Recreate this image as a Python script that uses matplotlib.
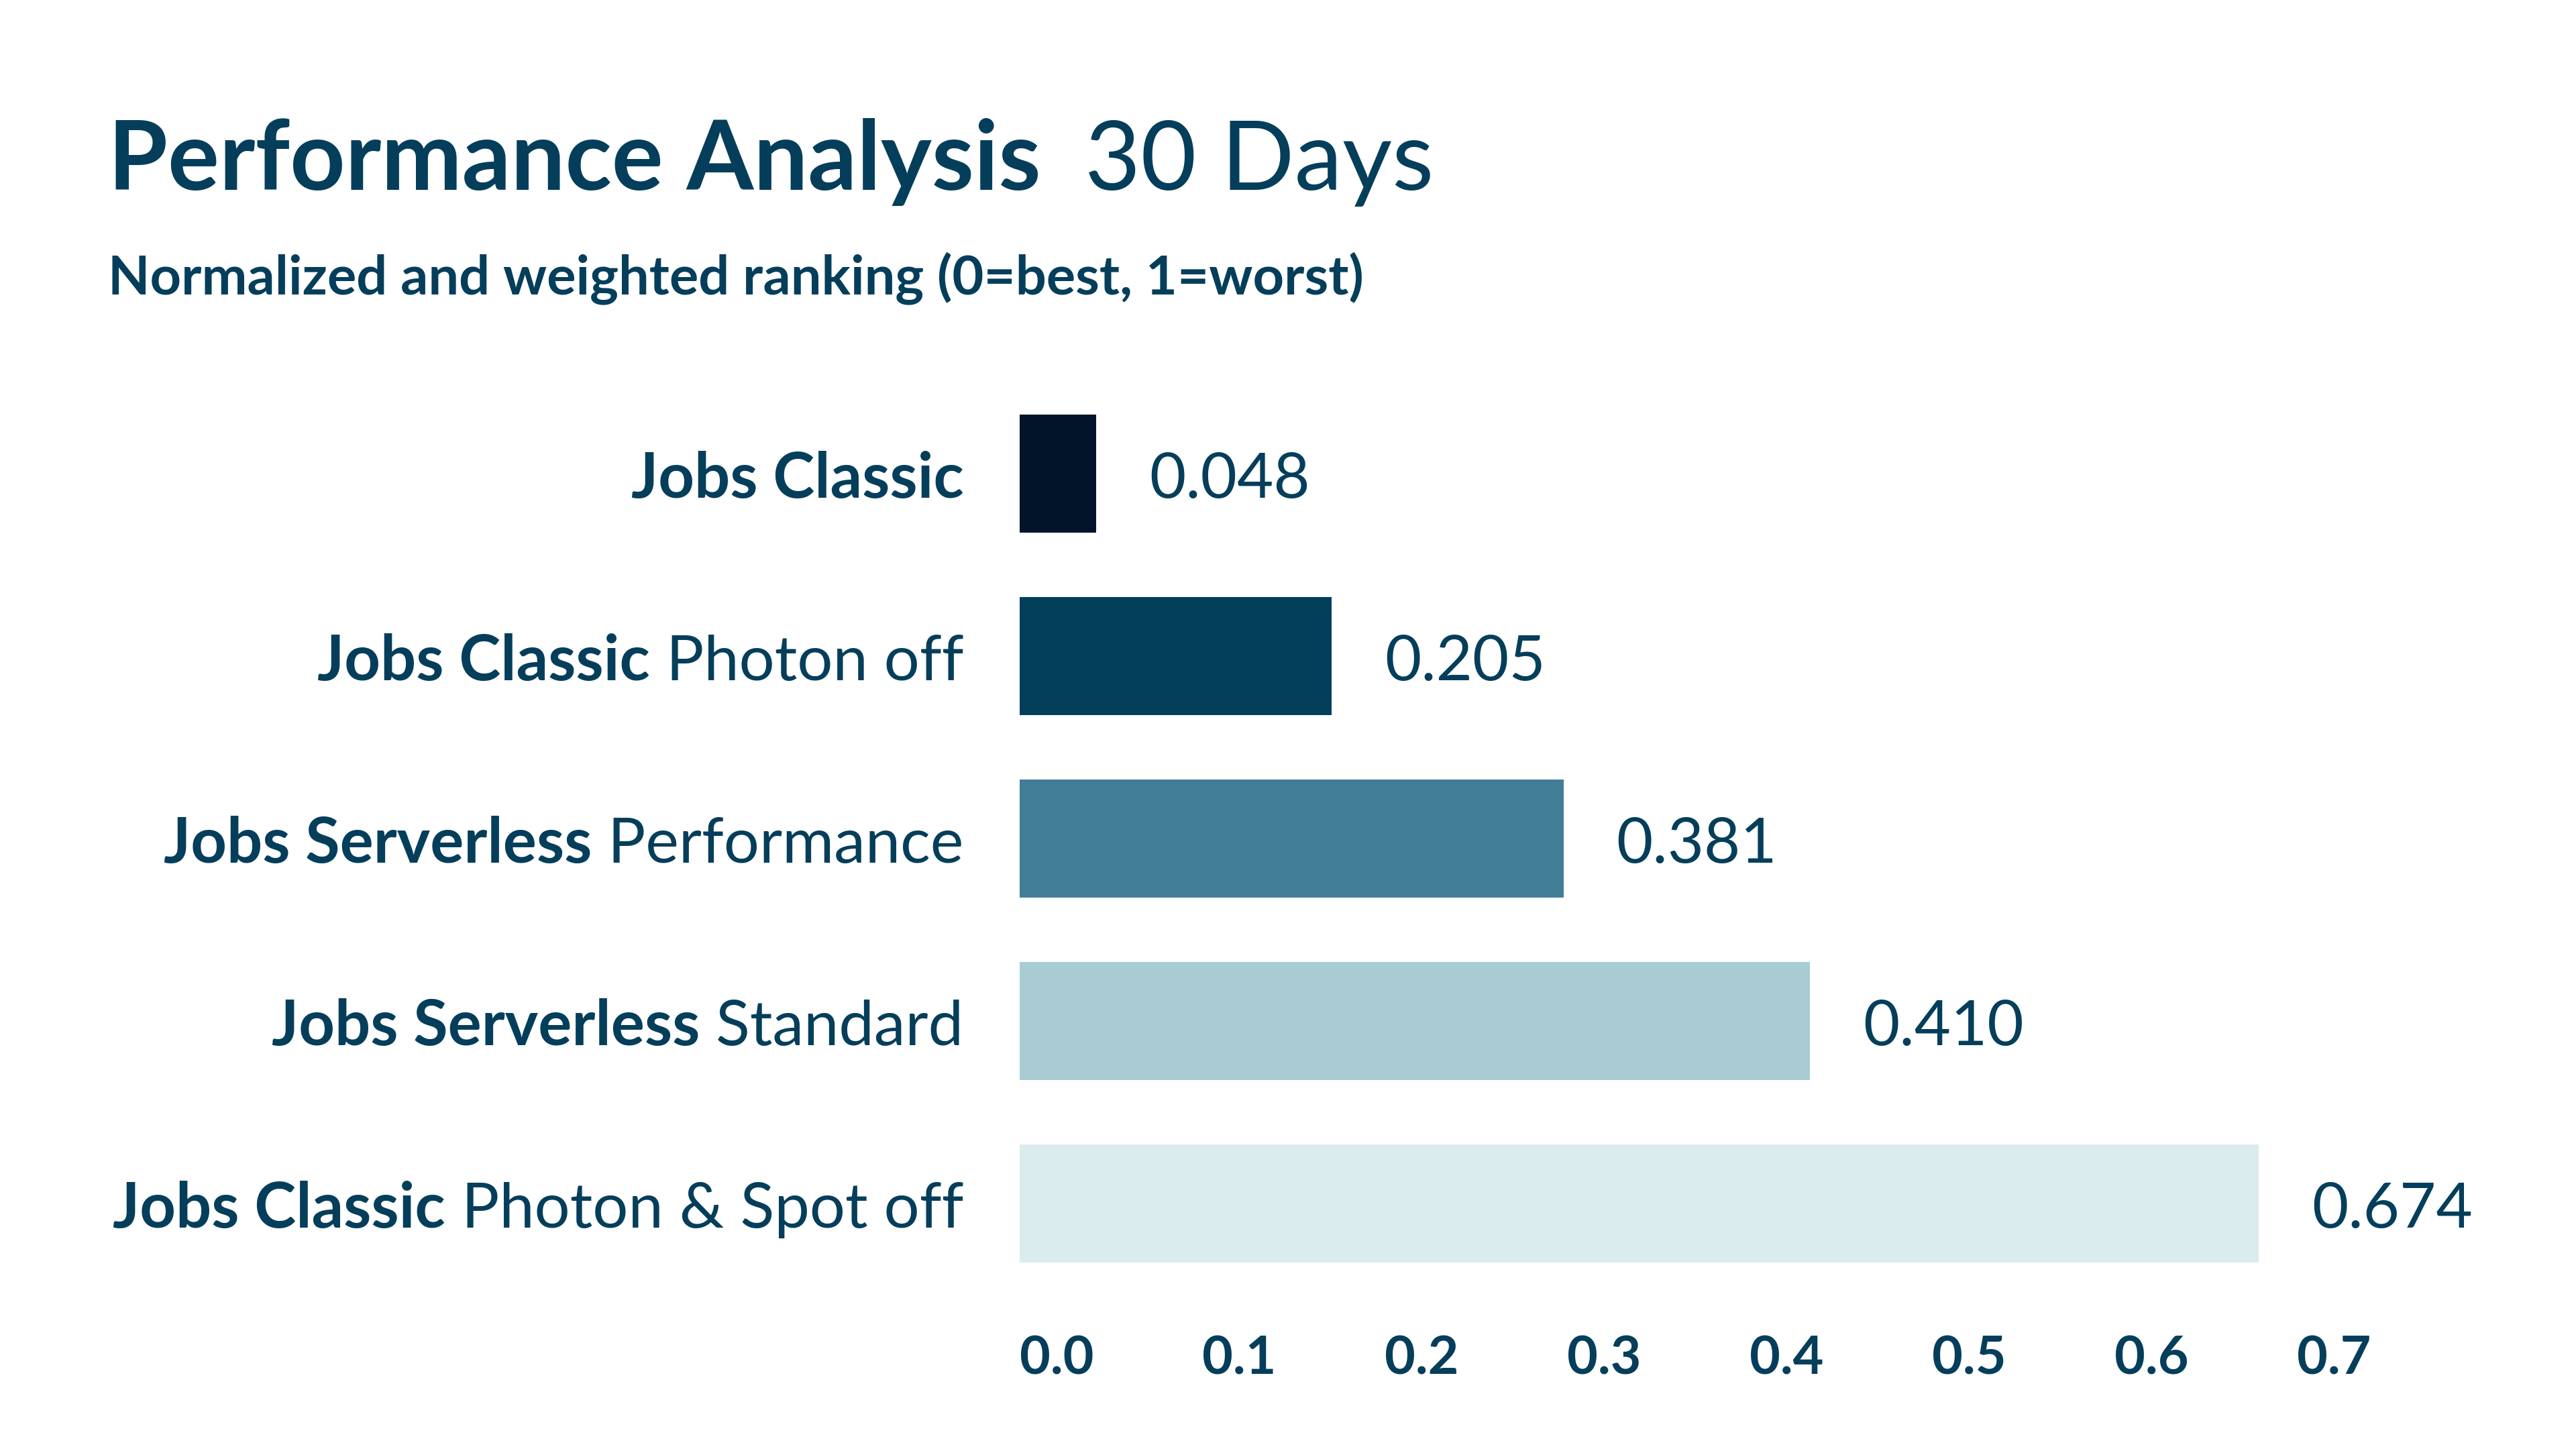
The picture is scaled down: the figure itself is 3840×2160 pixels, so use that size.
import matplotlib
matplotlib.use("Agg")
import matplotlib.pyplot as plt

# Data
label_bold = ["Jobs Classic", "Jobs Classic", "Jobs Serverless", "Jobs Serverless", "Jobs Classic"]
label_light = ["", " Photon off", " Performance", " Standard", " Photon & Spot off"]
bar_values = [0.042, 0.171, 0.298, 0.433, 0.679]   # bar lengths on the x axis
value_text = ["0.048", "0.205", "0.381", "0.410", "0.674"]  # printed labels
bar_colors = ["#01142a", "#033e5b", "#417e96", "#a8cbd4", "#daeced"]
x_ticks = [0.0, 0.1, 0.2, 0.3, 0.4, 0.5, 0.6, 0.7]

TXT = "#053e5b"
FONT = "Lato"
LIGHT = "normal"
plt.rcParams["font.family"] = [FONT, "DejaVu Sans"]

fig = plt.figure(figsize=(12.8, 7.2), dpi=300)
ax = fig.add_axes([0.3958, 0.0940, 0.5526, 0.6546])

ypos = list(range(len(bar_values)))
ax.barh(ypos, bar_values, height=0.647, color=bar_colors)
ax.set_xlim(0, 0.78)
ax.set_ylim(4.6, -0.6)

for s in ax.spines.values():
    s.set_visible(False)
ax.set_yticks([])
ax.set_xticks(x_ticks)
ax.set_xticklabels([f"{t:.1f}" for t in x_ticks])
ax.tick_params(axis="x", length=0, pad=8, labelsize=19, labelcolor=TXT)
for lab in ax.get_xticklabels():
    lab.set_ha("left")
    lab.set_fontweight("bold")

# value labels right of the bars
for y, v, t in zip(ypos, bar_values, value_text):
    ax.annotate(t, (v, y), xytext=(19.0, -8.7), textcoords="offset points",
                ha="left", va="baseline", fontsize=22.5, color=TXT, fontweight=LIGHT)

# category labels: light part right-aligned, bold part in front of it
renderer = fig.canvas.get_renderer()
for y, b, l in zip(ypos, label_bold, label_light):
    w_pt = 0
    if l:
        lt = ax.annotate(l, (0, y), xycoords=("axes fraction", "data"),
                         xytext=(-20, -8.7), textcoords="offset points",
                         ha="right", va="baseline", fontsize=22.5, color=TXT,
                         fontweight=LIGHT)
        w_pt = lt.get_window_extent(renderer).width * 72 / fig.dpi
    ax.annotate(b, (0, y), xycoords=("axes fraction", "data"),
                xytext=(-20 - w_pt, -8.7), textcoords="offset points",
                ha="right", va="baseline", fontsize=22.5, color=TXT,
                fontweight="bold")

# title and subtitle
title = fig.text(0.042, 0.869, "Performance Analysis", fontsize=34.5, fontweight="bold",
                 color=TXT, va="baseline", ha="left")
bb = title.get_window_extent(renderer)
fig.text((bb.x1 + 65) / (fig.dpi * 12.8), 0.869, "30 Days", fontsize=34.5,
         fontweight=LIGHT, color=TXT, va="baseline", ha="left")
fig.text(0.042, 0.7972, "Normalized and weighted ranking (0=best, 1=worst)", fontsize=19.5,
         fontweight="bold", color=TXT, va="baseline", ha="left")

fig.savefig("out.png", dpi=300, facecolor="white")
